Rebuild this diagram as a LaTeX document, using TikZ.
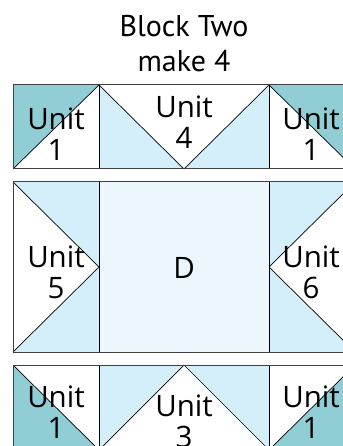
\documentclass[tikz,border=0pt]{standalone}
\usepackage{fontspec}
\setmainfont{Open Sans}
\newfontfamily\titlefont{PT Sans}
\definecolor{unitteal}{RGB}{144, 205, 212}
\definecolor{unitblue}{RGB}{212, 238, 250}
\definecolor{centreblue}{RGB}{235, 247, 253}
\tikzset{
  patchline/.style={black, line width=0.7pt},
  rowframe/.style={draw=black!75, line width=1pt},
  unitlabel/.style={font=\fontsize{29.5}{31}\selectfont, align=center, inner sep=0pt}
}

\begin{document}
\begin{tikzpicture}[x=1pt, y=-1pt]
    \useasboundingbox (0, 0) rectangle (342, 446);

    % Title
    \node[font=\titlefont\fontsize{30}{35}\selectfont, align=center] (title) at (184, 44) {Block Two\\make 4};

    % Top row
    \fill[unitteal] (13, 85) -- (99, 85) -- (13, 169) -- cycle;
    \fill[unitblue] (99, 85) -- (184, 169) -- (99, 169) -- cycle;
    \fill[unitblue] (269, 85) -- (269, 169) -- (184, 169) -- cycle;
    \fill[unitteal] (269, 85) -- (355, 85) -- (355, 169) -- cycle;
    \draw[patchline] (13, 169) -- (99, 85) -- (184, 169) -- (269, 85) -- (355, 169);
    \draw[patchline] (99, 85) -- (99, 169) (269, 85) -- (269, 169);
    \draw[rowframe] (13, 85) rectangle (355, 169);
    \node[unitlabel] (u1a) at (56, 134) {Unit\\1};
    \node[unitlabel] (u4) at (184, 122) {Unit\\4};
    \node[unitlabel] (u1b) at (311, 134) {Unit\\1};

    % Middle row
    \fill[unitblue] (13, 182) rectangle (99, 352);
    \fill[white] (13, 182) -- (99, 267) -- (13, 352) -- cycle;
    \fill[centreblue] (99, 182) rectangle (269, 352);
    \fill[unitblue] (269, 182) rectangle (355, 352);
    \fill[white] (355, 182) -- (269, 267) -- (355, 352) -- cycle;
    \draw[patchline] (13, 182) -- (99, 267) -- (13, 352);
    \draw[patchline] (355, 182) -- (269, 267) -- (355, 352);
    \draw[patchline] (99, 182) -- (99, 352) (269, 182) -- (269, 352);
    \draw[rowframe] (13, 182) rectangle (355, 352);
    \node[unitlabel] (u5) at (56, 272) {Unit\\5};
    \node[unitlabel] (d) at (184, 268) {D};
    \node[unitlabel] (u6) at (311, 272) {Unit\\6};

    % Bottom row
    \fill[unitteal] (13, 365) -- (99, 450) -- (13, 450) -- cycle;
    \fill[unitblue] (99, 365) -- (184, 365) -- (99, 450) -- cycle;
    \fill[unitblue] (184, 365) -- (269, 365) -- (269, 450) -- cycle;
    \fill[unitteal] (355, 365) -- (355, 450) -- (269, 450) -- cycle;
    \draw[patchline] (13, 365) -- (99, 450) -- (184, 365) -- (269, 450) -- (355, 365);
    \draw[patchline] (99, 365) -- (99, 450) (269, 365) -- (269, 450);
    \draw[rowframe] (13, 365) rectangle (355, 450);
    \node[unitlabel] (u1c) at (56, 412) {Unit\\1};
    \node[unitlabel] (u3) at (184, 421) {Unit\\3};
    \node[unitlabel] (u1d) at (311, 412) {Unit\\1};
\end{tikzpicture}
\end{document}
